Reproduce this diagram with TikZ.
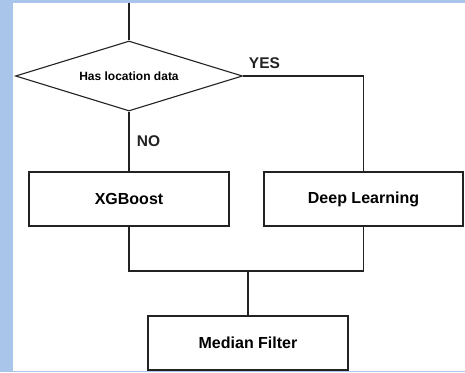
\documentclass[tikz,border=0pt]{standalone}
\usepackage{fontspec}
\setmainfont{Liberation Sans}
\usepackage{xcolor}
\usetikzlibrary{shapes.geometric,positioning,calc}
\definecolor{panelblue}{HTML}{A9C5EA}
\definecolor{linegray}{HTML}{222222}

\tikzset{
  stepbox/.style={draw=linegray, line width=1.1pt, rectangle, minimum width=200pt,
    minimum height=54pt, inner sep=0pt, font=\bfseries\fontsize{16}{18}\selectfont},
  decision/.style={draw=linegray, line width=1.1pt, diamond, aspect=3.2, minimum width=227pt,
    minimum height=70pt, inner sep=0pt, font=\bfseries\fontsize{12}{14}\selectfont},
  answer/.style={font=\bfseries\fontsize{15.5}{18}\selectfont, text=linegray}
}

\begin{document}
\begin{tikzpicture}[x=1pt, y=-1pt, line width=1.1pt, draw=linegray]
  % background panel
  \useasboundingbox (0,0) rectangle (465,372);
  \fill[panelblue] (0,0) rectangle (465,372);
  \fill[white] (13,3) rectangle (466,370.5);

  \coordinate (start) at (129,3);
  \node[decision] (loc) at (129,76) {Has location data};
  \node[stepbox] (xgb) at (129,199) {XGBoost};
  \node[stepbox, minimum width=199pt] (deep) at (363.5,199) {Deep Learning};
  \node[stepbox] (median) at (248,343) {Median Filter};
  \coordinate (join) at (248,271);

  \draw[linegray] (start) -- (loc.north);
  \draw[linegray] (loc.south) -- node[answer, right, xshift=4pt] {NO} (xgb.north);
  \draw[linegray] (loc.east) -| node[answer, above right, pos=0, xshift=2pt, yshift=3pt] {YES} (deep.north);
  \draw[linegray] (xgb.south) |- (join) -| (deep.south);
  \draw[linegray] (join) -- (median.north);
\end{tikzpicture}
\end{document}
